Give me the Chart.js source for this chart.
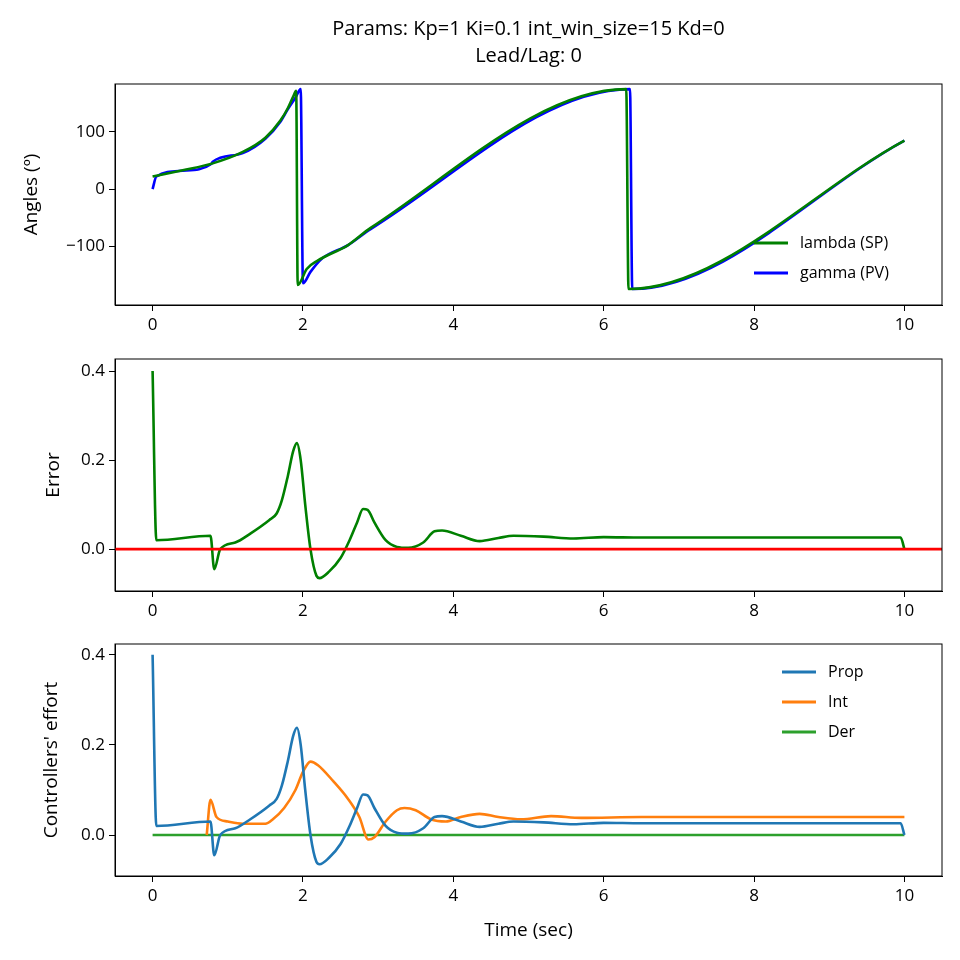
<!DOCTYPE html>
<html><head><meta charset="utf-8">
<script src="https://cdn.jsdelivr.net/npm/chart.js@4/dist/chart.umd.min.js"></script>
<style>
body{margin:0;background:#fff;width:960px;height:960px;position:relative;overflow:hidden}
canvas{position:absolute;left:0}
</style></head><body>
<canvas id="c1" style="top:0"></canvas>
<canvas id="c2" style="top:340px"></canvas>
<canvas id="c3" style="top:625px"></canvas>
<script>
const titleLines = ['Params: Kp=1 Ki=0.1 int_win_size=15 Kd=0', 'Lead/Lag: 0'];

const lambdaT = [0, 0.4, 0.8, 1.2, 1.5, 1.7, 1.8, 1.87, 1.91, 1.93, 2.05, 2.2, 2.6, 2.9, 6.3, 6.33, 10];
const lambdaV = [22, 33, 45, 65, 90, 120, 142, 162, 172, -168, -140, -125, -98, -68, 175, -175, 85];
const gammaT = [0, 0.05, 0.4, 0.78, 0.8, 1.2, 1.5, 1.7, 1.8, 1.9, 1.97, 2.0, 2.1, 2.25, 2.6, 2.9, 6.35, 6.38, 10];
const gammaV = [0, 22, 32, 44, 48, 63, 88, 118, 140, 160, 175, -165, -145, -122, -98, -70, 175, -175, 85];

const errT = [0, 0.05, 0.77, 0.82, 0.9, 1.1, 1.3, 1.55, 1.65, 1.72, 1.8, 1.87, 1.92, 1.97, 2.03, 2.1, 2.18, 2.22, 2.35, 2.5, 2.62, 2.72, 2.8, 2.86, 2.95, 3.1, 3.25, 3.4, 3.6, 3.75, 3.85, 4.1, 4.35, 4.6, 4.8, 5.2, 5.6, 6.0, 6.5, 9.95, 10];
const errV = [0.4, 0.02, 0.03, -0.045, 0.0, 0.015, 0.035, 0.065, 0.08, 0.11, 0.165, 0.22, 0.238, 0.2, 0.1, 0.0, -0.06, -0.065, -0.05, -0.02, 0.02, 0.06, 0.09, 0.088, 0.06, 0.02, 0.005, 0.003, 0.015, 0.04, 0.042, 0.03, 0.018, 0.025, 0.03, 0.028, 0.024, 0.027, 0.026, 0.026, 0];

const intT = [0.72, 0.77, 0.85, 1.0, 1.2, 1.5, 1.6, 1.75, 1.9, 2.0, 2.1, 2.2, 2.4, 2.6, 2.75, 2.87, 2.95, 3.1, 3.25, 3.35, 3.5, 3.7, 3.9, 4.1, 4.35, 4.6, 4.9, 5.3, 5.7, 6.5, 10];
const intV = [0.0, 0.078, 0.04, 0.03, 0.025, 0.025, 0.035, 0.06, 0.1, 0.14, 0.163, 0.155, 0.12, 0.08, 0.04, -0.01, -0.005, 0.03, 0.055, 0.06, 0.055, 0.035, 0.03, 0.04, 0.047, 0.04, 0.035, 0.042, 0.038, 0.04, 0.04];
const derT = [0, 10];
const derV = [0, 0];
const zeroT = [-0.5, 10.5];
const zeroV = [0, 0];

const xTicks = [0, 2, 4, 6, 8, 10];
const angTicks = [-100, 0, 100];
const errTicks = [0.0, 0.2, 0.4];

const FONT = "'Open Sans', 'DejaVu Sans', sans-serif";
const pts = (t, v) => t.map((x, i) => ({x, y: v[i]}));
const ds = (label, t, v, color) => ({label, data: pts(t, v), borderColor: color, borderWidth: 2.6, pointRadius: 0,
  cubicInterpolationMode: 'monotone', fill: false});

const frame = {
  id: 'frame',
  afterDraw(chart, args, opts) {
    const {ctx, chartArea: a} = chart;
    ctx.save();
    ctx.strokeStyle = '#000'; ctx.lineWidth = 1;
    ctx.strokeRect(a.left, a.top, a.right - a.left, a.bottom - a.top);
    ctx.font = '16px ' + FONT; ctx.textBaseline = 'middle';
    if (opts.legend) {
      chart.data.datasets.forEach((d, i) => {
        if (!d.label) return;
        const y = a.top + opts.legend.y + i * 30;
        const x = a.right - opts.legend.w;
        ctx.strokeStyle = d.borderColor; ctx.lineWidth = 2.8;
        ctx.beginPath(); ctx.moveTo(x, y); ctx.lineTo(x + 34, y); ctx.stroke();
        ctx.fillStyle = '#000'; ctx.fillText(d.label, x + 46, y);
      });
    }
    if (opts.title) {
      ctx.fillStyle = '#000'; ctx.font = '20px ' + FONT; ctx.textAlign = 'center';
      const cx = (a.left + a.right) / 2;
      ctx.fillText(titleLines[0], cx, 29);
      ctx.fillText(titleLines[1], cx, 56);
    }
    ctx.restore();
  }
};

function makeChart(id, h, padTop, padLeft, padBottom, xH, datasets, yMin, yMax, yTicks, yTitle, xTitle, frameOpts) {
  const el = document.getElementById(id);
  el.width = 960; el.height = h;
  el.style.width = '960px'; el.style.height = h + 'px';
  return new Chart(el, {
    type: 'line',
    data: {datasets},
    plugins: [frame],
    options: {
      responsive: false, animation: false, devicePixelRatio: 1,
      layout: {padding: {top: padTop, right: 18, left: padLeft, bottom: padBottom}},
      plugins: {legend: {display: false}, tooltip: {enabled: false}, frame: frameOpts},
      scales: {
        x: {
          type: 'linear', min: -0.5, max: 10.5,
          afterBuildTicks: s => { s.ticks = xTicks.map(v => ({value: v})); },
          afterFit: s => { s.height = xH; },
          grid: {drawOnChartArea: false, color: '#000', tickLength: 6},
          border: {color: '#000'},
          ticks: {color: '#000', font: {size: 17, family: FONT}, padding: 4, maxRotation: 0},
          title: {display: !!xTitle, text: xTitle, color: '#000', font: {size: 19, family: FONT}, padding: {top: 6}}
        },
        y: {
          min: yMin, max: yMax,
          afterBuildTicks: s => { s.ticks = yTicks.map(v => ({value: v})); },
          afterFit: s => { s.width = 115 - padLeft; },
          grid: {drawOnChartArea: false, color: '#000', tickLength: 6},
          border: {color: '#000'},
          ticks: {color: '#000', font: {size: 17, family: FONT}, padding: 4,
            callback: v => (yTicks === angTicks ? String(v).replace('-', '\u2212') : v.toFixed(1))},
          title: {display: true, text: yTitle, color: '#000', font: {size: 19, family: FONT}, padding: {bottom: 4}}
        }
      }
    }
  });
}

makeChart('c1', 340, 84, 16, 0, 35,
  [ds('lambda (SP)', lambdaT, lambdaV, '#008000'), ds('gamma (PV)', gammaT, gammaV, '#0000ff')],
  -203, 184, angTicks, 'Angles (º)', '', {legend: {y: 159, w: 188}, title: true});

makeChart('c2', 285, 19, 38, 0, 34,
  [ds('', zeroT, zeroV, '#ff0000'), ds('', errT, errV, '#008000')],
  -0.094, 0.427, errTicks, 'Error', '', {});

makeChart('c3', 335, 19, 36, 14, 70,
  [ds('Prop', errT, errV, '#1f77b4'), ds('Int', intT, intV, '#ff7f0e'), ds('Der', derT, derV, '#2ca02c')],
  -0.091, 0.424, errTicks, "Controllers' effort", 'Time (sec)', {legend: {y: 28, w: 160}});
</script>
</body></html>
